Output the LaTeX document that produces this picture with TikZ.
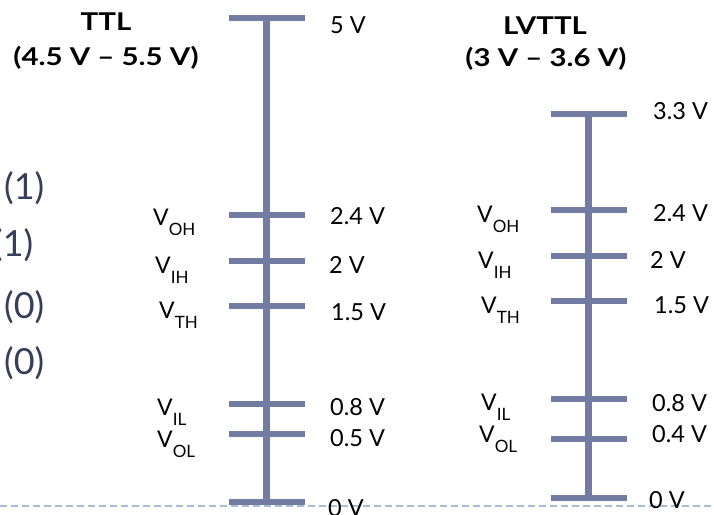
\documentclass[tikz,border=0pt]{standalone}
\usepackage{fontspec}
\setmainfont{Lato}
\newfontfamily\titlefont[FakeStretch=1.2]{Lato}
\definecolor{barc}{RGB}{114,124,163}
\definecolor{dashc}{RGB}{168,190,210}
\definecolor{sidec}{RGB}{55,62,92}
\newcommand{\vlab}[1]{V\raisebox{-10pt}{\fontsize{17}{17}\selectfont #1}}
\begin{document}
\begin{tikzpicture}[x=1pt,y=-1pt,
  bar/.style={draw=barc, line width=6pt},
  stem/.style={draw=barc, line width=7pt},
  val/.style={anchor=base west, inner sep=0pt, font=\fontsize{23.5}{25}\selectfont},
  vl/.style={anchor=base west, inner sep=0pt, font=\fontsize{23}{25}\selectfont},
  ttl/.style={anchor=base, inner sep=0pt, font=\titlefont\bfseries\fontsize{24.5}{26}\selectfont},
  side/.style={anchor=base west, inner sep=0pt, text=sidec, font=\fontsize{36}{38}\selectfont}]
\useasboundingbox (0,0) rectangle (714,514);
\clip (0,0) rectangle (714,514);
% dashed base line
\coordinate (dl) at (0,506);
\coordinate (dr) at (714,506);
\draw[dashc, line width=1.5pt, dash pattern=on 7pt off 4pt] (dl) -- (dr);
% TTL scale
\coordinate (ttop) at (266,18);
\coordinate (tbot) at (266,502);
\draw[stem] (ttop) -- (tbot);
\foreach \n/\y in {a/18,b/215,c/261,d/306,e/404,f/434,g/502}{
  \coordinate (tl\n) at (229,\y);
  \coordinate (tr\n) at (305,\y);
  \draw[bar] (tl\n) -- (tr\n);
}
% LVTTL scale
\coordinate (ltop) at (588,114);
\coordinate (lbot) at (588,498);
\draw[stem] (ltop) -- (lbot);
\foreach \n/\y in {a/114,b/210,c/256,d/301,e/399,f/439,g/498}{
  \coordinate (ll\n) at (551,\y);
  \coordinate (lr\n) at (627,\y);
  \draw[bar] (ll\n) -- (lr\n);
}
% titles
\node[ttl] (t1) at (106,30) {TTL};
\node[ttl] (t2) at (106,65) {(4.5 V – 5.5 V)};
\node[ttl] (l1) at (545,34) {LVTTL};
\node[ttl] (l2) at (546,66) {(3 V – 3.6 V)};
% TTL values
\node[val] (tv5) at (330,33) {5 V};
\node[val] (tv24) at (330,224) {2.4 V};
\node[val] (tv2) at (329,273) {2 V};
\node[val] (tv15) at (331,320) {1.5 V};
\node[val] (tv08) at (330,415) {0.8 V};
\node[val] (tv05) at (330,446) {0.5 V};
\node[val] (tv0) at (328,516) {0 V};
% TTL levels
\node[vl] (toh) at (153,225) {\vlab{OH}};
\node[vl] (tih) at (155,273) {\vlab{IH}};
\node[vl] (tth) at (159,318) {\vlab{TH}};
\node[vl] (til) at (157,415) {\vlab{IL}};
\node[vl] (tol) at (157,447) {\vlab{OL}};
% LVTTL values
\node[val] (lv33) at (653,119) {3.3 V};
\node[val] (lv24) at (653,221) {2.4 V};
\node[val] (lv2) at (650,268) {2 V};
\node[val] (lv15) at (654,313) {1.5 V};
\node[val] (lv08) at (652,411) {0.8 V};
\node[val] (lv04) at (652,442) {0.4 V};
\node[val] (lv0) at (649,508) {0 V};
% LVTTL levels
\node[vl] (loh) at (477,222) {\vlab{OH}};
\node[vl] (lih) at (478,268) {\vlab{IH}};
\node[vl] (lth) at (481,313) {\vlab{TH}};
\node[vl] (lil) at (481,410) {\vlab{IL}};
\node[vl] (lol) at (479,442) {\vlab{OL}};
% side labels (cut at left edge, as in the reference)
\node[side] (s1) at (4,199) {(1)};
\node[side] (s2) at (-7,256) {(1)};
\node[side] (s3) at (4,318) {(0)};
\node[side] (s4) at (4,374) {(0)};
\end{tikzpicture}
\end{document}
